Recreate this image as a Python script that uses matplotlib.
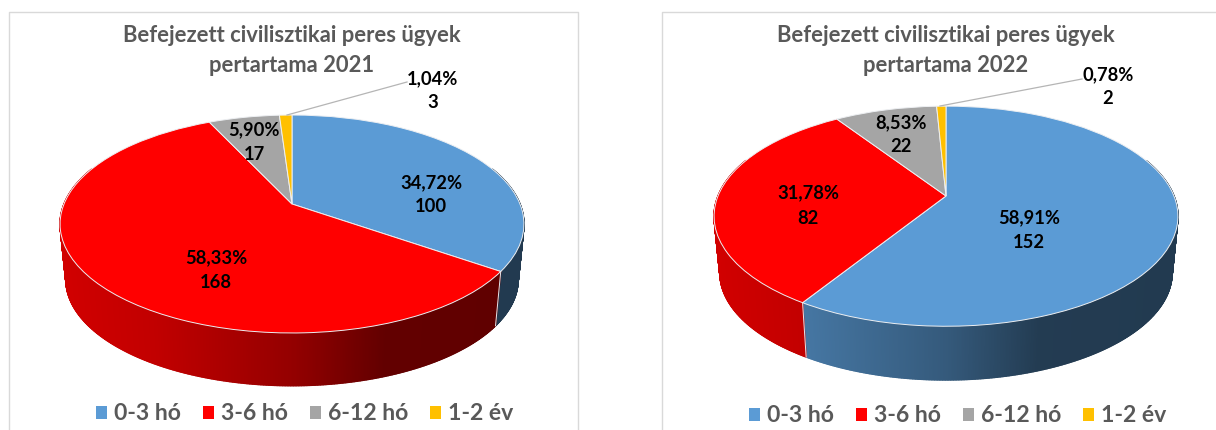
import numpy as np
import matplotlib
matplotlib.use("Agg")
import matplotlib.pyplot as plt
from matplotlib.collections import PolyCollection
from matplotlib.patches import Patch
from matplotlib.transforms import Transform

plt.rcParams['font.family'] = ['Lato', 'DejaVu Sans']
plt.rcParams['font.weight'] = 'bold'

# ---------- data ----------
categories = ['0-3 hó', '3-6 hó', '6-12 hó', '1-2 év']
colors = ['#5B9BD5', '#FF0000', '#A5A5A5', '#FFC000']
values_2021 = [100, 168, 17, 3]
values_2022 = [152, 82, 22, 2]
pct_2021 = ['34,72%', '58,33%', '5,90%', '1,04%']
pct_2022 = ['58,91%', '31,78%', '8,53%', '0,78%']
title_2021 = 'Befejezett civilisztikai peres ügyek\npertartama 2021'
title_2022 = 'Befejezett civilisztikai peres ügyek\npertartama 2022'

W, H = 1216, 430
GREY = '#595959'
K = 0.1835          # perspective strength
SHRINK = 0.975      # lower rim relative to the upper rim


class Persp(Transform):
    """Unit disc -> tilted disc in pixel coordinates."""
    input_dims = output_dims = 2

    def __init__(self, cx, apex_y, ys=1.0, drop=0.0, f=1.0):
        super().__init__()
        self.cx, self.apex_y, self.ys, self.drop, self.f = cx, apex_y, ys, drop, f

    def transform_non_affine(self, xy):
        xy = np.asarray(xy, float)
        u, v = xy[:, 0], xy[:, 1]
        w = 1 + K * v
        x = self.cx + self.f * 228 * u / w
        y = self.apex_y + self.drop + self.f * self.ys * (-105.3 * v / w)
        return np.column_stack([x, y])


def shade(t):
    return np.interp(t, [-1, -0.6, 0, 0.4, 1], [0.82, 0.76, 0.58, 0.385, 0.375])


def draw_chart(ax, xlim, values, pct, title, cx, apex_y, ys, depth, frame, label_pos,
               leader, legend_xy, title_y):
    ax.set_axis_off()
    top = Persp(cx, apex_y, ys)
    bot = Persp(cx, apex_y, ys, depth, SHRINK)

    # side wall: thin shaded strips, one set per slice
    cum = np.concatenate([[0], np.cumsum(values)]) / np.sum(values)
    polys, cols = [], []
    for i in range(len(values)):
        a = np.linspace(cum[i], cum[i + 1], max(2, int((cum[i + 1] - cum[i]) * 1080) + 1)) * 2 * np.pi
        uv = np.column_stack([np.sin(a), np.cos(a)])
        pt, pb = top.transform(uv), bot.transform(uv)
        base = np.array(matplotlib.colors.to_rgb(colors[i]))
        for j in range(len(a) - 1):
            if uv[j, 1] > 0.35 and uv[j + 1, 1] > 0.35:
                continue
            polys.append([pt[j], pt[j + 1], pb[j + 1], pb[j]])
            t = (0.5 * (pt[j, 0] + pt[j + 1, 0]) - cx) / 233
            cols.append(base * shade(t))
    ax.add_collection(PolyCollection(polys, facecolors=cols, edgecolors=cols, linewidths=1.0, zorder=1))

    # slice boundaries on the wall
    for c in cum[:-1]:
        uv = np.array([[np.sin(2 * np.pi * c), np.cos(2 * np.pi * c)]])
        if uv[0, 1] < 0:
            p0, p1 = top.transform(uv)[0], bot.transform(uv)[0]
            ax.plot([p0[0], p1[0]], [p0[1], p1[1]], color='#E4E9EE', lw=0.7, zorder=2)

    # top face
    wedges, _ = ax.pie(values, colors=colors, startangle=90, counterclock=False,
                       wedgeprops=dict(edgecolor='#EDEFF2', linewidth=0.7))
    for wd in wedges:
        wd.set_transform(top + ax.transData)
        wd.set_clip_on(False)
        wd.set_zorder(3)
    ax.set_aspect('auto')
    ax.set_xlim(*xlim)
    ax.set_ylim(H, 0)

    # frame (open at the bottom, running off the image)
    x0, x1, y0 = frame
    ax.plot([x0, x0, x1, x1], [H, y0, y0, H], color='#D9D9D9', lw=1.0, zorder=0, clip_on=False)

    # title
    for n, line in enumerate(title.split('\n')):
        ax.text(cx, title_y[n], line, ha='center', va='center', color=GREY,
                fontsize=15.85, fontweight='bold', zorder=6)

    # data labels
    for (x, y1, y2), p, v in zip(label_pos, pct, values):
        ax.text(x, y1, p, ha='center', va='center', color='black', fontsize=13.2, zorder=6)
        ax.text(x, y2, str(v), ha='center', va='center', color='black', fontsize=13.2, zorder=6)

    # leader line of the smallest slice
    ax.plot(leader[0], leader[1], color='#B5B5B5', lw=0.9, zorder=5)

    # legend
    handles = [Patch(facecolor=c, edgecolor='none') for c in colors]
    ax.legend(handles, categories, loc='center', bbox_to_anchor=legend_xy,
              bbox_transform=ax.transData, ncol=4, frameon=False, fontsize=16.6,
              labelcolor=GREY, handlelength=0.48, handleheight=0.48, handletextpad=0.3,
              columnspacing=0.95, borderpad=0, borderaxespad=0)


fig = plt.figure(figsize=(W / 100, H / 100), dpi=100, facecolor='white')
ax1 = fig.add_axes([0, 0, 608 / W, 1])
ax2 = fig.add_axes([608 / W, 0, 608 / W, 1])

draw_chart(ax1, (0, 608), values_2021, pct_2021, title_2021, 292, 204, 1.0, 56, (9, 578, 12),
           [(431, 183, 206), (216, 258, 283), (254, 130, 154), (433, 79, 103)],
           ([287, 407], [115, 82]), (305, 414), (36, 65))
draw_chart(ax2, (608, 1216), values_2022, pct_2022, title_2022, 946, 196, 1.01, 57, (662, 1230, 12),
           [(1029, 218, 242), (808, 193, 218), (901, 123, 147), (1108, 75, 99)],
           ([940, 1082], [106, 79]), (958, 416), (36, 65))

fig.savefig('out.png', dpi=100, facecolor='white')
